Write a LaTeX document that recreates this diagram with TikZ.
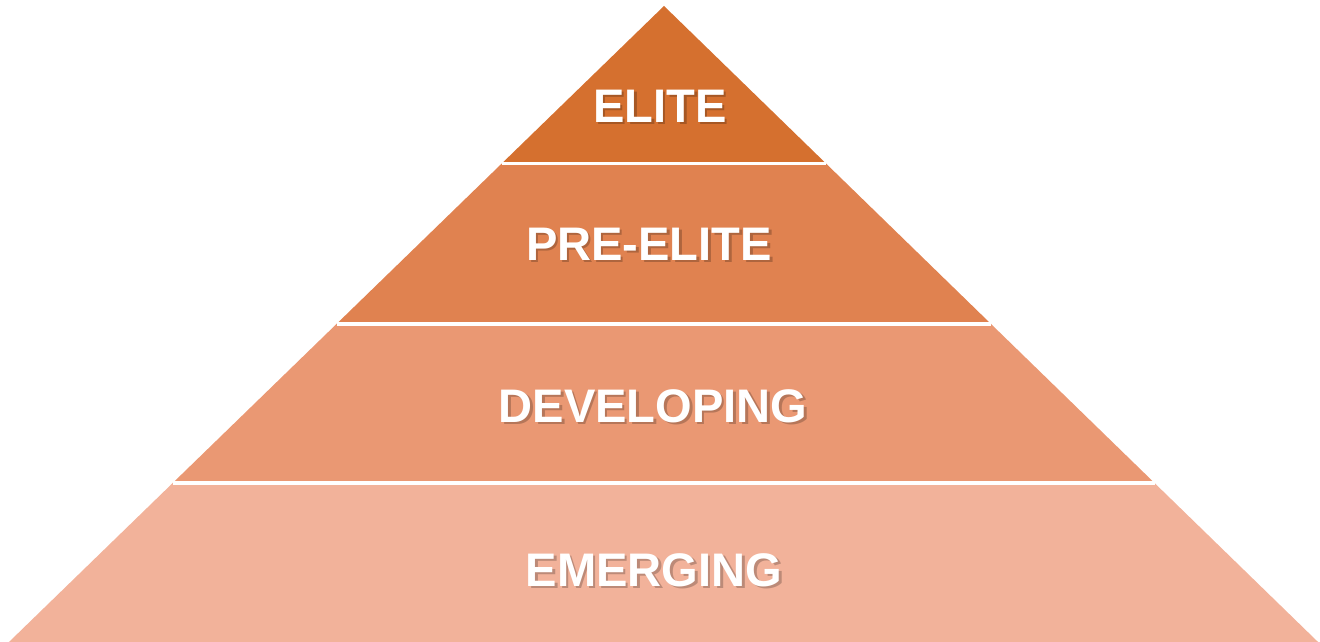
\documentclass[tikz,border=0pt]{standalone}
\usepackage{fontspec}
\setmainfont{Liberation Sans}
\usepackage{tikz}
\usetikzlibrary{calc}

\definecolor{eliteC}{HTML}{D5702F}
\definecolor{preC}{HTML}{E08250}
\definecolor{devC}{HTML}{EA9873}
\definecolor{emergC}{HTML}{F2B29A}

\tikzset{
  sep/.style={draw=white, line width=0.9pt},
  lbl/.style={text=white, font=\fontsize{13.4}{16}\selectfont\bfseries},
  shd/.style={text=black, opacity=0.22, font=\fontsize{13.4}{16}\selectfont\bfseries},
}

\begin{document}
\begin{tikzpicture}
				\useasboundingbox (0,0) rectangle (13.2,6.42);
				\coordinate (top) at (6.64, 6.36);
				\coordinate (bl) at (0.09, 0);
				\coordinate (br) at (13.18, 0);
				\coordinate (l1) at ($(bl)!0.25!(top)$);
				\coordinate (r1) at ($(br)!0.25!(top)$);
				\coordinate (l2) at ($(bl)!0.5!(top)$);
				\coordinate (r2) at ($(br)!0.5!(top)$);
				\coordinate (l3) at ($(bl)!0.7524!(top)$);
				\coordinate (r3) at ($(br)!0.7524!(top)$);
				\fill[emergC] (bl) -- (br) -- (r1) -- (l1) -- cycle;
				\fill[devC] (l1) -- (r1) -- (r2) -- (l2) -- cycle;
				\fill[preC] (l2) -- (r2) -- (r3) -- (l3) -- cycle;
				\fill[eliteC] (l3) -- (r3) -- (top) -- cycle;
				\draw[sep] (l1) to (r1);
				\draw[sep] (l2) to (r2);
				\draw[sep] (l3) to (r3);
				\node[shd] at (6.625, 5.34) {ELITE};
				\node[lbl] (elite) at (6.60, 5.36) {ELITE};
				\node[shd] at (6.515, 3.96) {PRE-ELITE};
				\node[lbl] (preelite) at (6.49, 3.98) {PRE-ELITE};
				\node[shd] at (6.555, 2.34) {DEVELOPING};
				\node[lbl] (developing) at (6.53, 2.36) {DEVELOPING};
				\node[shd] at (6.565, 0.70) {EMERGING};
				\node[lbl] (emerging) at (6.54, 0.72) {EMERGING};
			\end{tikzpicture}
\end{document}
